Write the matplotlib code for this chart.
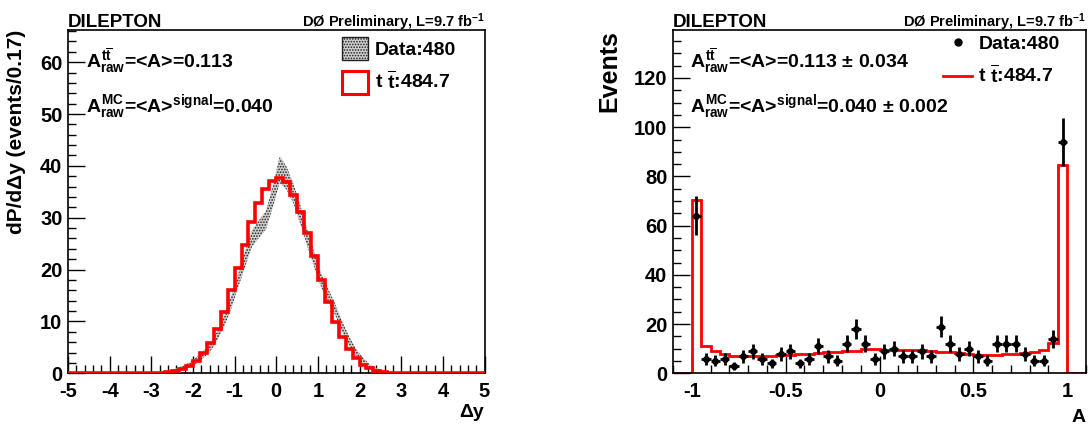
import numpy as np
import matplotlib
matplotlib.use('Agg')
import matplotlib.pyplot as plt
from matplotlib.patches import Patch
from matplotlib.lines import Line2D
from matplotlib.ticker import MultipleLocator

plt.rcParams['font.family'] = ['Liberation Sans', 'DejaVu Sans']
plt.rcParams['font.weight'] = 'bold'
plt.rcParams['axes.unicode_minus'] = False
plt.rcParams['mathtext.fontset'] = 'custom'
plt.rcParams['mathtext.rm'] = 'Liberation Sans:bold'
plt.rcParams['mathtext.it'] = 'Liberation Sans:bold'
plt.rcParams['mathtext.bf'] = 'Liberation Sans:bold'
plt.rcParams['mathtext.sf'] = 'Liberation Sans:bold'
plt.rcParams['hatch.linewidth'] = 0.8

# ---------------- data: left panel (delta y) ----------------
dy_range = (-5.0, 5.0)
dy_nbins = 60
# MC ttbar, 60 bins of 1/6 from -5 to 5
mc_dy = ([0.0] * 12 +
         [0.08, 0.15, 0.3, 0.5, 0.9, 1.5, 2.4, 3.9, 5.9, 8.6, 11.9, 16.0,
          20.4, 24.8, 29.1, 32.9, 35.6, 37.1, 37.6, 36.8, 34.4, 31.2, 27.0, 22.7,
          18.0, 13.7, 9.9, 7.0, 4.6, 2.9, 1.6, 1.0, 0.5, 0.3, 0.15, 0.07] +
         [0.0] * 12)
# Data band (central value and error) at bin centres
data_dy = ([0.0] * 12 +
           [0.1, 0.2, 0.35, 0.6, 1.0, 1.6, 2.5, 3.6, 5.0, 7.2, 10.0, 13.6,
            17.8, 22.0, 26.0, 27.8, 29.5, 34.0, 39.3, 37.6, 34.6, 30.5, 26.0, 21.8,
            17.8, 15.0, 12.3, 9.0, 6.2, 4.0, 2.4, 1.3, 0.7, 0.35, 0.15, 0.05] +
           [0.0] * 12)
data_dy_err = ([0.0] * 12 +
               [0.1, 0.15, 0.2, 0.3, 0.4, 0.5, 0.6, 0.7, 0.8, 0.9, 1.0, 1.2,
                1.3, 1.5, 1.6, 1.7, 1.8, 2.0, 2.6, 2.2, 1.9, 1.8, 1.6, 1.5,
                1.3, 1.2, 1.1, 1.0, 0.9, 0.7, 0.6, 0.4, 0.3, 0.2, 0.1, 0.05] +
               [0.0] * 12)

# ---------------- data: right panel (A) ----------------
a_range = (-1.1, 1.1)
a_nbins = 44
mc_a = ([0.0, 0.0, 70.5] +
        [11.2, 9.2, 8.0, 7.2, 7.0, 7.0, 7.1, 7.2, 7.4, 7.5,
         7.8, 8.0, 8.4, 8.6, 8.8, 9.0, 9.2, 10.0, 9.8, 9.6,
         9.5, 9.6, 9.6, 9.3, 9.0, 8.8, 8.6, 8.3, 8.0, 7.6,
         7.4, 7.5, 7.8, 8.0, 8.2, 8.5, 9.5, 12.5] +
        [84.5, 0.0, 0.0])
data_a = [64, 6, 5, 6, 3, 7, 9, 6, 4, 8, 9, 4, 6, 11, 7, 5, 12, 18, 12, 6, 9,
          10, 7, 7, 9, 7, 19, 12, 8, 10, 7, 5, 12, 12, 12, 8, 5, 5, 14, 94]

# ---------------- figure ----------------
W, H = 1091, 432
fig = plt.figure(figsize=(W / 100, H / 100), dpi=100)

def frac(x0, x1, ytop, ybot):
    return [x0 / W, 1 - ybot / H, (x1 - x0) / W, (ybot - ytop) / H]

axL = fig.add_axes(frac(68, 484.5, 30, 373.3))
axR = fig.add_axes(frac(673, 1086, 30, 373.3))

for ax in (axL, axR):
    for s in ax.spines.values():
        s.set_linewidth(1.2)
    ax.tick_params(which='both', direction='in', top=False, right=False,
                   labelsize=14.5, width=1.0)
    ax.tick_params(which='major', length=12)
    ax.tick_params(which='minor', length=6)

TT = r'$t\ \overline{t}$'
TT_SUP = r'$A^{t\overline{t}}_{raw}$'

# Left panel
edges_dy = np.linspace(dy_range[0], dy_range[1], dy_nbins + 1)
cent_dy = 0.5 * (edges_dy[1:] + edges_dy[:-1])
d = np.array(data_dy)
e = np.array(data_dy_err)
axL.fill_between(cent_dy, d - e, d + e, facecolor='#cfcfcf',
                 edgecolor='#222222', hatch='......', linewidth=0, zorder=2)
axL.stairs(mc_dy, edges_dy, color='red', linewidth=2.6, zorder=3)
axL.set_xlim(*dy_range)
axL.set_ylim(0, 66.2)
axL.xaxis.set_major_locator(MultipleLocator(1))
axL.xaxis.set_minor_locator(MultipleLocator(0.2))
axL.yaxis.set_major_locator(MultipleLocator(10))
axL.yaxis.set_minor_locator(MultipleLocator(2))
axL.tick_params(axis='x', pad=6)
axL.tick_params(axis='y', pad=4)
axL.set_xlabel('Δy', fontsize=14, fontweight='bold', loc='right')
axL.xaxis.set_label_coords(1.0, -0.09)
axL.set_ylabel('dP/dΔy (events/0.17)', fontsize=15, fontweight='bold', loc='top')
axL.yaxis.set_label_coords(-0.1, 1.0)

axL.text(0.0, 1.01, 'DILEPTON', transform=axL.transAxes, fontsize=13.5,
         fontweight='bold', ha='left', va='baseline')
axL.text(1.0, 1.01, 'DØ Preliminary, L=9.7 fb$^{-1}$', transform=axL.transAxes,
         fontsize=10.5, fontweight='bold', ha='right', va='baseline')
axL.text(0.044, 0.888, TT_SUP + '=<A>=0.113', transform=axL.transAxes,
         fontsize=14, fontweight='bold', va='baseline')
axL.text(0.044, 0.761, r'$A^{MC}_{raw}$=<A>$^{signal}$=0.040', transform=axL.transAxes,
         fontsize=14, fontweight='bold', va='baseline')
hL = [Patch(facecolor='#cfcfcf', edgecolor='#222222', hatch='......', linewidth=1.0),
      Patch(facecolor='white', edgecolor='red', linewidth=2.2)]
axL.legend(hL, ['Data:480', TT + ':484.7'], loc='upper left',
           bbox_to_anchor=(0.648, 0.99), frameon=False, fontsize=14,
           handlelength=1.35, handleheight=1.45, labelspacing=0.5,
           handletextpad=0.35, borderpad=0.2, borderaxespad=0.0)

# Right panel
edges_a = np.linspace(a_range[0], a_range[1], a_nbins + 1)
cent_a = 0.5 * (edges_a[1:] + edges_a[:-1])
axR.stairs(mc_a, edges_a, color='red', linewidth=2.0, zorder=2)
da = np.array(data_a, dtype=float)
xa = cent_a[2:-2]
axR.errorbar(xa, da, yerr=np.sqrt(da), xerr=0.025, fmt='o', color='black',
             markersize=4, elinewidth=2.0, capsize=0, zorder=3)
axR.set_xlim(*a_range)
axR.set_ylim(0, 139.5)
axR.xaxis.set_major_locator(MultipleLocator(0.5))
axR.xaxis.set_minor_locator(MultipleLocator(0.1))
axR.yaxis.set_major_locator(MultipleLocator(20))
axR.yaxis.set_minor_locator(MultipleLocator(5))
axR.xaxis.set_major_formatter(matplotlib.ticker.FuncFormatter(lambda v, p: '%g' % v))
axR.tick_params(axis='x', pad=6)
axR.tick_params(axis='y', pad=4)
axR.set_xlabel('A', fontsize=14, fontweight='bold', loc='right')
axR.xaxis.set_label_coords(1.0, -0.105)
axR.set_ylabel('Events', fontsize=18, fontweight='bold', loc='top')
axR.yaxis.set_label_coords(-0.125, 1.0)
axR.text(0.0, 1.01, 'DILEPTON', transform=axR.transAxes, fontsize=13.5,
         fontweight='bold', ha='left', va='baseline')
axR.text(1.0, 1.01, 'DØ Preliminary, L=9.7 fb$^{-1}$', transform=axR.transAxes,
         fontsize=10.5, fontweight='bold', ha='right', va='baseline')
axR.text(0.042, 0.888, TT_SUP + '=<A>=0.113 ± 0.034', transform=axR.transAxes,
         fontsize=14, fontweight='bold', va='baseline')
axR.text(0.042, 0.761, r'$A^{MC}_{raw}$=<A>$^{signal}$=0.040 ± 0.002', transform=axR.transAxes,
         fontsize=14, fontweight='bold', va='baseline')
hR = [Line2D([], [], marker='o', color='black', linestyle='none', markersize=5),
      Line2D([], [], color='red', linewidth=2.0)]
axR.legend(hR, ['Data:480', TT + ':484.7'], loc='upper left',
           bbox_to_anchor=(0.645, 0.995), frameon=False, fontsize=14,
           handlelength=1.5, labelspacing=0.55, handletextpad=0.3,
           borderpad=0.2, borderaxespad=0.0)

for ax in (axL, axR):
    for lab in ax.get_xticklabels() + ax.get_yticklabels():
        lab.set_fontweight('bold')

fig.savefig('out.png', dpi=100)
